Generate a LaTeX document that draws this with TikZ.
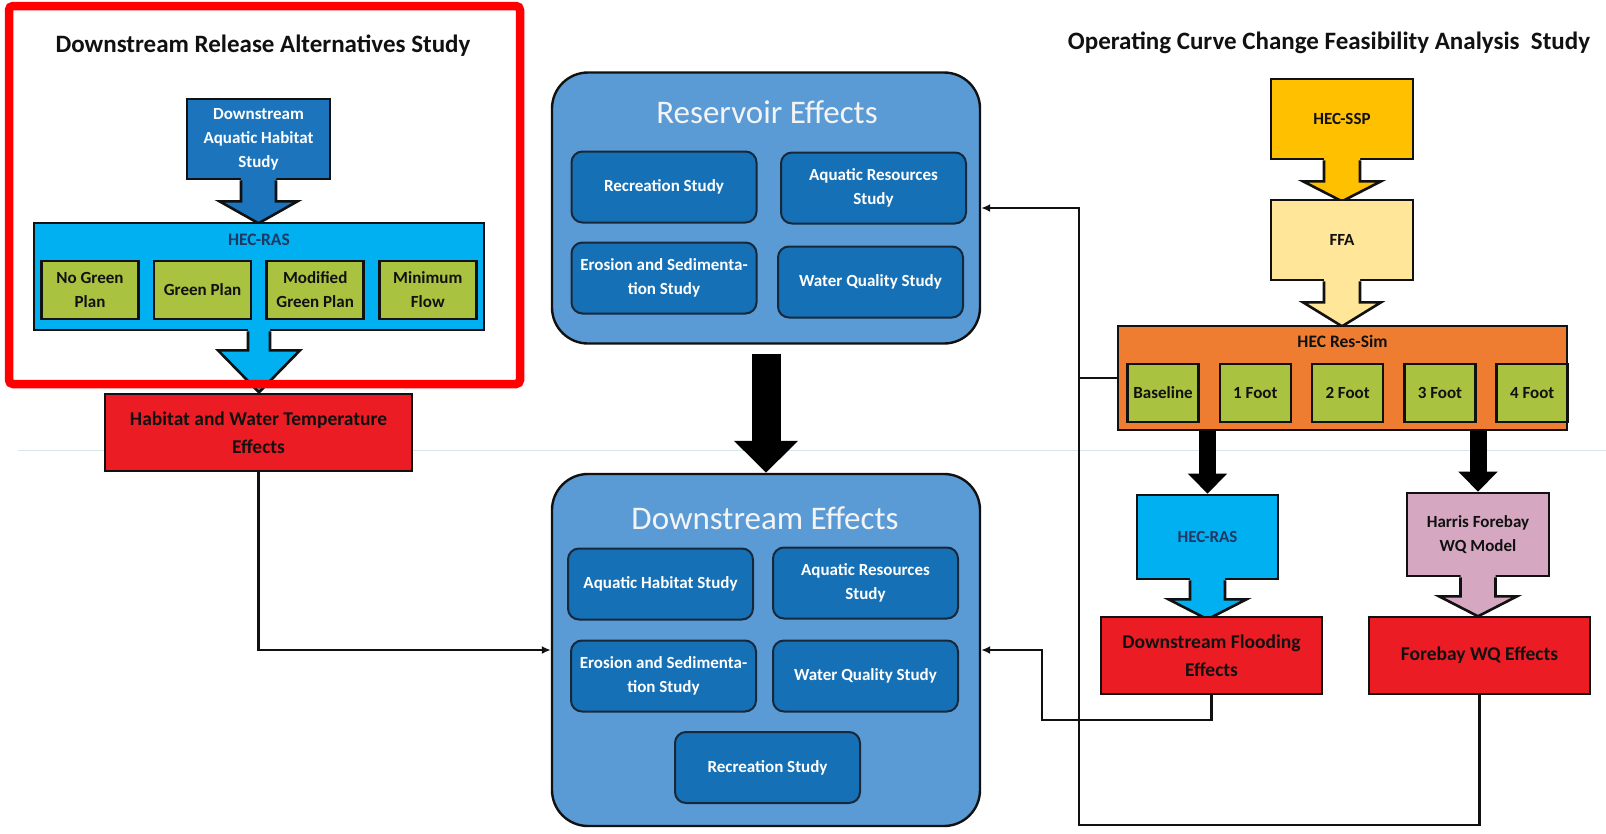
\documentclass[tikz,border=0pt]{standalone}
\usepackage{fontspec}
\setmainfont{Carlito}
\usepackage{xcolor}
\usepackage{tikz}
\usetikzlibrary{arrows.meta,positioning,calc}
\definecolor{rsink}{HTML}{111111}
\definecolor{rsnavy}{HTML}{1F3864}
\definecolor{rsblue}{HTML}{1C75BC}
\definecolor{rsstudy}{HTML}{1570B6}
\definecolor{rsedge}{HTML}{17283A}
\definecolor{rseffects}{HTML}{5B9BD5}
\definecolor{rsmist}{HTML}{F4F4F4}
\definecolor{rscyan}{HTML}{00B0F0}
\definecolor{rsgreen}{HTML}{A9C23F}
\definecolor{rsred}{HTML}{EC1C24}
\definecolor{rsorange}{HTML}{EF7D31}
\definecolor{rsgold}{HTML}{FFC000}
\definecolor{rssand}{HTML}{FFE699}
\definecolor{rsmauve}{HTML}{D6A7C0}
\definecolor{rsframe}{HTML}{FF0000}
\definecolor{rsrule}{HTML}{D6E5EA}

\tikzset{
  heading/.style={font=\bfseries\fontsize{25}{30}\selectfont,text=rsink},
  effectsbox/.style={draw=rsink,line width=2.4pt,fill=rseffects,rounded corners=36pt,
    minimum width=428pt},
  effectstitle/.style={text=rsmist,font=\fontsize{33}{36}\selectfont},
  studybox/.style={draw=rsedge,line width=2pt,fill=rsstudy,rounded corners=11pt,
    minimum width=185pt,minimum height=71pt,inner sep=2pt,align=center,text=white,
    font=\bfseries\fontsize{17}{24}\selectfont},
  modelbox/.style={draw=rsink,line width=2.6pt,minimum width=142pt,minimum height=82pt,
    align=center,text=rsink,font=\bfseries\fontsize{17}{24}\selectfont},
  groupbox/.style={draw=rsink,line width=2.6pt},
  grouphead/.style={inner sep=0pt,font=\bfseries\fontsize{17.5}{20}\selectfont},
  runbox/.style={draw=rsink,line width=2.6pt,fill=rsgreen,minimum height=58pt,inner sep=2pt,
    align=center,text=rsink,font=\bfseries\fontsize{17}{24}\selectfont},
  resultbox/.style={draw=rsink,line width=2.6pt,fill=rsred,minimum height=77pt,
    align=center,text=rsink,font=\bfseries\fontsize{19.5}{28}\selectfont},
  arrowline/.style={draw=rsink,line width=2.6pt},
  link/.style={draw=rsink,line width=2.2pt,-{Latex[length=9pt,width=8pt]}},
  joinline/.style={draw=rsink,line width=2.2pt},
  bigpush/.style={draw=black,line width=29pt,-{Triangle[width=62pt,length=32pt]}},
  smallpush/.style={draw=black,line width=17pt,-{Triangle[width=38pt,length=20pt]}}
}

% down-arrow callout below a box: node, colour, shaft half width, shaft length, head half width, head length
\newcommand{\calloutdown}[6]{%
  \fill[#2] ([xshift=-#3pt,yshift=3.5pt]#1.south) -- ++(0,#4+3.5) -- ++(-#5+#3,0)
    -- ++(#5,#6) -- ++(#5,-#6) -- ++(-#5+#3,0) -- ++(0,-#4-3.5) -- cycle;
  \draw[arrowline] ([xshift=-#3pt]#1.south) -- ++(0,#4) -- ++(-#5+#3,0)
    -- ++(#5,#6) -- ++(#5,-#6) -- ++(-#5+#3,0) -- ++(0,-#4);}

\begin{document}
\begin{tikzpicture}[x=1pt,y=-1pt]
\useasboundingbox (0,0) rectangle (1606,833);
\draw[rsrule,line width=1.4pt] (18,450.5) -- (1606,450.5);

% downstream release alternatives
\node[heading] (relhead) at (263,46) {Downstream Release Alternatives Study};
\node[modelbox,fill=rsblue,text=white,minimum width=143pt,minimum height=80pt] (dahs) at (258.5,139)
  {Downstream\\Aquatic Habitat\\Study};
\calloutdown{dahs}{rsblue}{17.5}{21}{39}{22}
\node[groupbox,fill=rscyan,minimum width=450pt,minimum height=107pt] (rasleft) at (259,276.5) {};
\node[grouphead,text=rsnavy,below=12pt of rasleft.north] (raslefthead) {HEC-RAS};
\node[runbox,minimum width=97pt] (nogreen) at (90,290) {No Green\\Plan};
\node[runbox,minimum width=97pt,right=13pt of nogreen] (green) {Green Plan};
\node[runbox,minimum width=97pt,right=13pt of green] (modgreen) {Modified\\Green Plan};
\node[runbox,minimum width=97pt,right=13pt of modgreen] (minflow) {Minimum\\Flow};
\calloutdown{rasleft}{rscyan}{11}{19}{41}{42}
\node[resultbox,minimum width=307pt] (habitat) at (258.5,432.5) {Habitat and Water Temperature\\Effects};

% reservoir effects
\node[effectsbox,minimum height=271pt] (reseff) at (766,208) {};
\node[effectstitle] (resefftitle) at (767,112) {Reservoir Effects};
\node[studybox] (rec1) at (664,187) {Recreation Study};
\node[studybox] (aqr1) at (873.5,188) {Aquatic Resources\\Study};
\node[studybox] (ero1) at (664,278) {Erosion and Sedimenta-\\tion Study};
\node[studybox] (wq1) at (870.5,282) {Water Quality Study};

% downstream effects
\node[effectsbox,minimum height=352pt] (dseff) at (766,650) {};
\node[effectstitle] (dsefftitle) at (765,518) {Downstream Effects};
\node[studybox] (aqh) at (660.5,584) {Aquatic Habitat Study};
\node[studybox] (aqr2) at (865.5,583) {Aquatic Resources\\Study};
\node[studybox] (ero2) at (663.5,676) {Erosion and Sedimenta-\\tion Study};
\node[studybox] (wq2) at (865.5,676) {Water Quality Study};
\node[studybox] (rec2) at (767.5,767.5) {Recreation Study};
\draw[bigpush] ([yshift=-9pt]reseff.south) -- (dseff.north);

% operating curve study
\node[heading] (ochead) at (1329,43) {Operating Curve Change Feasibility Analysis\ \ Study};
\node[modelbox,fill=rsgold,minimum height=80pt] (ssp) at (1342,119) {HEC-SSP};
\calloutdown{ssp}{rsgold}{18}{21}{39}{20}
\node[modelbox,fill=rssand,minimum height=80pt] (ffa) at (1342,240) {FFA};
\calloutdown{ffa}{rssand}{18}{21}{39}{24}
\node[groupbox,fill=rsorange,minimum width=449pt,minimum height=104pt] (resim) at (1342.5,378) {};
\node[grouphead,text=rsink,below=10pt of resim.north] (resimhead) {HEC Res-Sim};
\node[runbox,minimum width=71pt] (base) at (1163,393) {Baseline};
\node[runbox,minimum width=71pt,right=18.7pt of base] (foot1) {1 Foot};
\node[runbox,minimum width=71pt,right=18.7pt of foot1] (foot2) {2 Foot};
\node[runbox,minimum width=71pt,right=18.7pt of foot2] (foot3) {3 Foot};
\node[runbox,minimum width=71pt,right=18.7pt of foot3] (foot4) {4 Foot};
\node[modelbox,fill=rscyan,text=rsnavy,minimum width=141pt,minimum height=84pt] (rasright) at (1207.5,537) {HEC-RAS};
\calloutdown{rasright}{rscyan}{17.5}{19}{39}{20}
\node[modelbox,fill=rsmauve,minimum height=83pt] (harris) at (1478,534.5) {Harris Forebay\\WQ Model};
\calloutdown{harris}{rsmauve}{17.5}{19}{39}{20}
\node[resultbox,minimum width=221pt] (flood) at (1211.5,655.5) {Downstream Flooding\\Effects};
\node[resultbox,minimum width=221pt] (forebay) at (1479.5,655.5) {Forebay WQ Effects};
\draw[smallpush] (resim.south -| rasright.north) -- (rasright.north);
\draw[smallpush] (resim.south -| harris.north) -- (harris.north);

% connectors
\coordinate (feedtop) at ([xshift=98pt]reseff.east);
\coordinate (floodin) at ([xshift=61pt]dseff.east);
\draw[link] (habitat.south) |- (dseff.west);
\draw[link] (flood.south) -- ++(0,25) -| (floodin) -- (dseff.east);
\draw[link] (forebay.south) -- ++(0,130) -| (feedtop) -- (reseff.east);
\draw[joinline] (resim.west) -- (resim.west -| feedtop);

\draw[rsframe,line width=8.5pt,rounded corners=4pt] (9,6) rectangle (520,384);
\end{tikzpicture}
\end{document}
